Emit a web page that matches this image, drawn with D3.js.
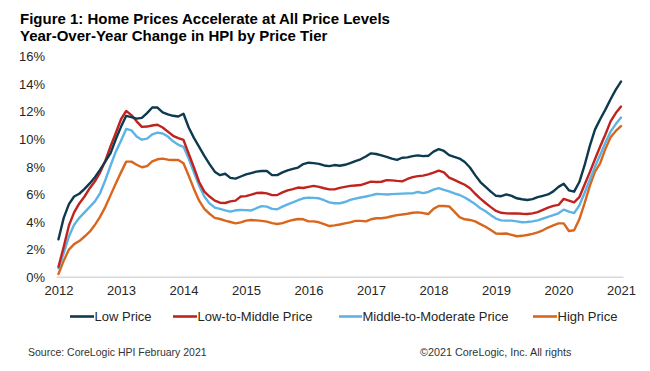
<!DOCTYPE html>
<html>
<head>
<meta charset="utf-8">
<script src="https://cdn.jsdelivr.net/npm/d3@7"></script>
<style>
  html, body { margin: 0; padding: 0; background: #ffffff; }
  svg { display: block; font-family: "Liberation Sans", Arial, sans-serif; }
</style>
</head>
<body>
<svg id="chart" width="650" height="371"></svg>
<script>
// ---- Data (monthly YoY change, %, Jan 2012 .. Jan 2021) ----
const startYear = 2012;
const yearTicks = [2012, 2013, 2014, 2015, 2016, 2017, 2018, 2019, 2020, 2021];
const yTicks = [0, 2, 4, 6, 8, 10, 12, 14, 16];
const seriesNames = ["Low Price", "Low-to-Middle Price", "Middle-to-Moderate Price", "High Price"];

const lowPrice = [
  2.75, 4.3, 5.3, 5.85, 6.05, 6.4, 6.8, 7.25, 7.8, 8.4, 9.0, 10.0,
  10.9, 11.7, 11.6, 11.5, 11.55, 11.9, 12.3, 12.3, 11.95, 11.8, 11.7, 11.65,
  11.85, 10.85, 10.1, 9.45, 8.8, 8.2, 7.65, 7.4, 7.5, 7.2, 7.15, 7.3,
  7.45, 7.55, 7.65, 7.7, 7.7, 7.4, 7.4, 7.6, 7.75, 7.85, 7.95, 8.2,
  8.3, 8.27, 8.22, 8.1, 8.05, 8.13, 8.08, 8.15, 8.27, 8.42, 8.55, 8.75,
  8.98, 8.93, 8.83, 8.72, 8.6, 8.5, 8.66, 8.69, 8.78, 8.83, 8.78, 8.8,
  9.1, 9.28, 9.15, 8.85, 8.72, 8.6, 8.35, 7.95, 7.4, 6.9, 6.55, 6.2,
  5.9, 5.87, 6.0, 5.9, 5.72, 5.65, 5.6, 5.66, 5.8, 5.9, 6.0, 6.22,
  6.55, 6.78, 6.3, 6.2, 6.9, 8.1, 9.5, 10.7, 11.45, 12.15, 12.9, 13.6,
  14.18
];
const lowMiddle = [
  0.76, 2.2, 3.75, 4.7, 5.35, 5.85, 6.45, 6.95, 7.6, 8.45, 9.5, 10.45,
  11.45, 12.05, 11.75, 11.3, 10.9, 10.92, 11.0, 11.05, 10.85, 10.55, 10.25, 10.08,
  9.95, 8.95, 7.95, 6.9, 6.2, 5.85, 5.55, 5.4, 5.38, 5.5, 5.55, 5.85,
  5.88, 5.98, 6.1, 6.12, 6.08, 5.95, 5.96, 6.15, 6.3, 6.38, 6.5, 6.47,
  6.55, 6.62, 6.55, 6.45, 6.37, 6.37, 6.48, 6.55, 6.62, 6.65, 6.68, 6.8,
  6.93, 6.9, 6.92, 7.04, 7.02, 6.98, 6.95, 7.12, 7.25, 7.33, 7.36, 7.45,
  7.58, 7.72, 7.6, 7.22, 7.05, 6.88, 6.7, 6.45, 6.05, 5.7, 5.38, 5.08,
  4.8, 4.67, 4.63, 4.62, 4.63, 4.6, 4.58, 4.63, 4.72, 4.88, 5.05, 5.17,
  5.24, 5.68, 5.55, 5.42, 5.8, 6.7, 7.6, 8.55, 9.47, 10.35, 11.3, 11.9,
  12.37
];
const middleModerate = [
  0.64, 1.75, 2.95, 3.8, 4.3, 4.7, 5.1, 5.5, 6.1, 7.05, 8.1, 9.1,
  9.9, 10.75, 10.65, 10.2, 9.97, 10.05, 10.35, 10.48, 10.42, 10.2, 9.85, 9.6,
  9.45, 8.6, 7.6, 6.65, 5.85, 5.35, 5.05, 4.95, 4.85, 4.75, 4.85, 4.87,
  4.86, 4.84, 5.0, 5.15, 5.12, 4.95, 4.93, 5.12, 5.28, 5.42, 5.58, 5.72,
  5.77, 5.75, 5.72, 5.58, 5.42, 5.36, 5.36, 5.45, 5.6, 5.7, 5.78, 5.85,
  5.93, 6.03, 6.02, 6.0, 6.02, 6.04, 6.06, 6.08, 6.08, 6.18, 6.1, 6.18,
  6.35, 6.46, 6.33, 6.22, 6.08, 5.96, 5.78, 5.55, 5.3, 5.0, 4.78, 4.5,
  4.25, 4.12, 4.1, 4.1, 4.05, 3.98, 4.0, 4.05, 4.12, 4.25, 4.38, 4.5,
  4.63, 4.9, 4.75, 4.65, 5.2, 6.1, 7.05, 8.0, 8.86, 9.75, 10.55, 11.1,
  11.57
];
const highPrice = [
  0.23, 1.2, 2.0, 2.4, 2.62, 2.95, 3.3, 3.8, 4.39, 5.1, 5.95, 6.8,
  7.6, 8.38, 8.38, 8.15, 7.97, 8.05, 8.4, 8.55, 8.6, 8.52, 8.5, 8.5,
  8.26, 7.35, 6.4, 5.55, 4.95, 4.6, 4.3, 4.22, 4.1, 4.0, 3.9, 3.98,
  4.1, 4.15, 4.12, 4.08, 4.03, 3.92, 3.86, 3.92, 4.05, 4.15, 4.22, 4.2,
  4.05, 4.05, 3.98, 3.85, 3.71, 3.76, 3.82, 3.9, 3.98, 4.08, 4.08, 4.05,
  4.2, 4.27, 4.27, 4.33, 4.42, 4.5, 4.55, 4.6, 4.67, 4.7, 4.65, 4.58,
  4.95, 5.16, 5.16, 5.13, 4.75, 4.35, 4.2, 4.15, 4.05, 3.85, 3.66, 3.42,
  3.17, 3.15, 3.17, 3.07, 2.97, 3.0, 3.06, 3.14, 3.25, 3.4, 3.6, 3.75,
  3.9, 3.9, 3.35, 3.4, 4.2, 5.35, 6.6, 7.65, 8.26, 9.3, 10.15, 10.6,
  10.96
];

const colors = ["#0d3a4e", "#c0231d", "#5cb3e4", "#d9661c"];
const seriesData = [lowPrice, lowMiddle, middleModerate, highPrice];

// ---- Layout ----
const svg = d3.select("#chart");
svg.append("rect").attr("width", 650).attr("height", 371).attr("fill", "#fff");

const x = d3.scaleLinear().domain([0, 108]).range([58.5, 621]);
const y = d3.scaleLinear().domain([0, 16]).range([277.2, 56.5]);

// Title
svg.append("text").attr("x", 20).attr("y", 24)
  .attr("font-size", 15).attr("font-weight", "bold").attr("fill", "#000")
  .text("Figure 1: Home Prices Accelerate at All Price Levels");
svg.append("text").attr("x", 20).attr("y", 40.5)
  .attr("font-size", 15).attr("font-weight", "bold").attr("fill", "#000")
  .text("Year-Over-Year Change in HPI by Price Tier");

// Y axis labels
const yAxis = d3.axisLeft(y).tickValues(yTicks).tickSize(0).tickPadding(0)
  .tickFormat(d => d + "%");
const gy = svg.append("g").attr("transform", "translate(45,0)").call(yAxis);
gy.select(".domain").remove();
gy.selectAll("text").attr("font-size", 13).attr("fill", "#262626")
  .attr("font-family", "Liberation Sans, Arial, sans-serif");

// X axis
const xAxis = d3.axisBottom(x)
  .tickValues(yearTicks.map(yr => (yr - startYear) * 12))
  .tickSize(0).tickPadding(9)
  .tickFormat(d => String(startYear + d / 12));
const gx = svg.append("g").attr("transform", "translate(0,277.2)").call(xAxis);
gx.select(".domain").remove();
gx.selectAll("text").attr("font-size", 13).attr("fill", "#262626")
  .attr("font-family", "Liberation Sans, Arial, sans-serif");
svg.append("line")
  .attr("x1", x(0) - 2).attr("x2", x(108) + 2.5)
  .attr("y1", y(0)).attr("y2", y(0))
  .attr("stroke", "#d9d9d9").attr("stroke-width", 1.5);

// Lines
const line = d3.line().x((d, i) => x(i)).y(d => y(d)).curve(d3.curveLinear);
[3, 2, 1, 0].forEach(k => {
  svg.append("path").datum(seriesData[k])
    .attr("fill", "none").attr("stroke", colors[k])
    .attr("stroke-width", 2.4).attr("stroke-linejoin", "round")
    .attr("stroke-linecap", "round")
    .attr("d", line);
});

// Legend
const legendItems = [
  { lx: 70, tx: 94 },
  { lx: 173, tx: 197 },
  { lx: 339, tx: 362 },
  { lx: 533, tx: 557 }
];
const lg = svg.append("g");
seriesNames.forEach((name, i) => {
  lg.append("line").attr("x1", legendItems[i].lx).attr("x2", legendItems[i].tx)
    .attr("y1", 316.5).attr("y2", 316.5)
    .attr("stroke", colors[i]).attr("stroke-width", 2.6);
  lg.append("text").attr("x", legendItems[i].tx + 0.5).attr("y", 321)
    .attr("font-size", 13).attr("fill", "#262626").text(name);
});

// Footer
svg.append("text").attr("x", 28).attr("y", 356)
  .attr("font-size", 10.5).attr("fill", "#333").text("Source: CoreLogic HPI February 2021");
svg.append("text").attr("x", 420).attr("y", 356)
  .attr("font-size", 10.8).attr("fill", "#333").text("©2021 CoreLogic, Inc. All rights");
</script>
</body>
</html>
